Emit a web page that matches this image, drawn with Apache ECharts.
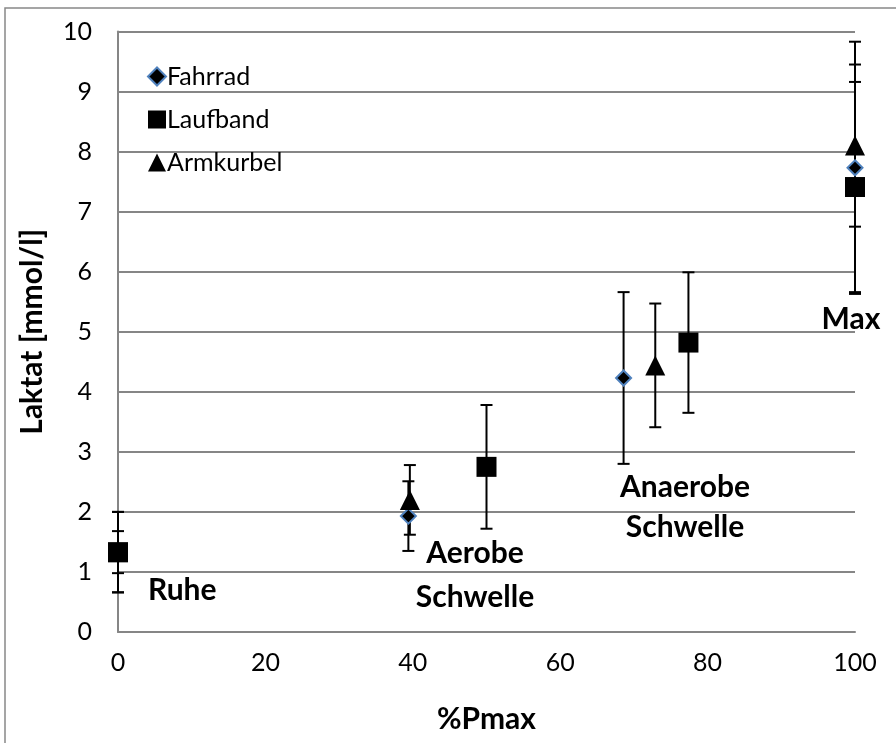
<!DOCTYPE html>
<html>
<head>
<meta charset="utf-8">
<script src="https://cdn.jsdelivr.net/npm/echarts@6/dist/echarts.min.js"></script>
<style>
  html, body { margin: 0; padding: 0; background: #fff; }
  #chart { width: 896px; height: 743px; }
</style>
</head>
<body>
<div id="chart"></div>
<script>
// Lactate (mean ± SD) over percentage of maximal power, three ergometers
const seriesNames = ['Fahrrad', 'Laufband', 'Armkurbel'];

const fahrradX = [0, 39.4, 68.6, 100];
const fahrradY = [1.33, 1.93, 4.23, 7.73];
const fahrradSD = [0.67, 0.58, 1.43, 2.1];

const laufbandX = [0, 50, 77.4, 100];
const laufbandY = [1.33, 2.75, 4.82, 7.41];
const laufbandSD = [0.35, 1.03, 1.17, 1.75];

const armkurbelX = [0, 39.6, 72.9, 100];
const armkurbelY = [1.33, 2.2, 4.44, 8.1];
const armkurbelSD = [0.67, 0.58, 1.03, 1.35];

const xTicks = [0, 20, 40, 60, 80, 100];
const yTicks = [0, 1, 2, 3, 4, 5, 6, 7, 8, 9, 10];

const phaseLabels = ['Ruhe', 'Aerobe\nSchwelle', 'Anaerobe\nSchwelle', 'Max'];

const FONT = 'Lato, "Open Sans", sans-serif';
const LABEL_FONT = 'bold 30px ' + FONT;

function pairs(xs, ys) { return xs.map((x, i) => [x, ys[i]]); }
function errRows(xs, ys, sd) { return xs.map((x, i) => [x, ys[i] - sd[i], ys[i] + sd[i]]); }

function errorBarSeries(name, rows) {
  return {
    type: 'custom',
    name: name + ' SD',
    z: 1,
    silent: true,
    encode: { x: 0, y: [1, 2] },
    data: rows,
    renderItem: function (params, api) {
      const lo = api.coord([api.value(0), api.value(1)]);
      const hi = api.coord([api.value(0), api.value(2)]);
      const half = 6;
      const style = { stroke: '#000', lineWidth: 2 };
      return {
        type: 'group',
        children: [
          { type: 'line', shape: { x1: lo[0], y1: lo[1], x2: hi[0], y2: hi[1] }, style: style },
          { type: 'line', shape: { x1: lo[0] - half, y1: lo[1], x2: lo[0] + half, y2: lo[1] }, style: style },
          { type: 'line', shape: { x1: hi[0] - half, y1: hi[1], x2: hi[0] + half, y2: hi[1] }, style: style }
        ]
      };
    }
  };
}

const chart = echarts.init(document.getElementById('chart'), null, { renderer: 'canvas' });

const option = {
  animation: false,
  backgroundColor: '#fff',
  textStyle: { fontFamily: FONT },
  grid: { left: 118, right: 41, top: 31.5, bottom: 111, containLabel: false },
  legend: {
    orient: 'vertical',
    left: 142,
    top: 59,
    itemGap: 18,
    itemWidth: 18,
    itemHeight: 18,
    data: seriesNames,
    textStyle: { fontFamily: FONT, fontSize: 25, color: '#000', padding: [0, 0, 0, -4] }
  },
  xAxis: {
    type: 'value',
    min: 0, max: 100, interval: 20,
    name: '%Pmax',
    nameLocation: 'middle',
    nameGap: 72,
    nameTextStyle: { fontFamily: FONT, fontSize: 30, fontWeight: 'bold', color: '#000' },
    axisLine: { show: true, lineStyle: { color: '#868686', width: 2 } },
    axisTick: { show: false },
    splitLine: { show: false },
    axisLabel: { fontFamily: FONT, fontSize: 25, color: '#000', margin: 18,
      formatter: v => (xTicks.includes(v) ? String(v) : '') }
  },
  yAxis: {
    type: 'value',
    min: 0, max: 10, interval: 1,
    name: 'Laktat [mmol/l]',
    nameLocation: 'middle',
    nameGap: 71,
    nameTextStyle: { fontFamily: FONT, fontSize: 30, fontWeight: 'bold', color: '#000' },
    axisLine: { show: true, lineStyle: { color: '#868686', width: 2 } },
    axisTick: { show: false },
    splitLine: { show: true, lineStyle: { color: '#868686', width: 2 } },
    axisLabel: { fontFamily: FONT, fontSize: 25, color: '#000', margin: 26,
      formatter: v => (yTicks.includes(v) ? String(v) : '') }
  },
  graphic: [
    { type: 'rect', z: -10, silent: true,
      shape: { x: 5, y: 8, width: 920, height: 760 },
      style: { fill: 'none', stroke: '#888', lineWidth: 1.5 } },
    { type: 'text', x: 148, y: 590, style: { text: phaseLabels[0], font: LABEL_FONT, fill: '#000', align: 'left', verticalAlign: 'middle' } },
    { type: 'text', x: 475, y: 531, style: { text: phaseLabels[1], font: LABEL_FONT, fill: '#000', align: 'center', lineHeight: 44 } },
    { type: 'text', x: 685, y: 467, style: { text: phaseLabels[2], font: LABEL_FONT, fill: '#000', align: 'center', lineHeight: 40 } },
    { type: 'text', x: 851, y: 319, style: { text: phaseLabels[3], font: LABEL_FONT, fill: '#000', align: 'center', verticalAlign: 'middle' } }
  ],
  series: [
    errorBarSeries('Fahrrad', errRows(fahrradX, fahrradY, fahrradSD)),
    errorBarSeries('Laufband', errRows(laufbandX, laufbandY, laufbandSD)),
    errorBarSeries('Armkurbel', errRows(armkurbelX, armkurbelY, armkurbelSD)),
    {
      type: 'scatter', name: 'Fahrrad', z: 4,
      symbol: 'diamond', symbolSize: 15,
      itemStyle: { color: '#000', opacity: 1, borderColor: '#4f81bd', borderWidth: 2 },
      data: pairs(fahrradX, fahrradY)
    },
    {
      type: 'scatter', name: 'Laufband', z: 6,
      symbol: 'rect', symbolSize: 20,
      itemStyle: { color: '#000', opacity: 1 },
      data: pairs(laufbandX, laufbandY)
    },
    {
      type: 'scatter', name: 'Armkurbel', z: 5,
      symbol: 'triangle', symbolSize: [20, 20],
      itemStyle: { color: '#000', opacity: 1 },
      data: pairs(armkurbelX, armkurbelY)
    }
  ]
};

chart.setOption(option);
</script>
</body>
</html>
